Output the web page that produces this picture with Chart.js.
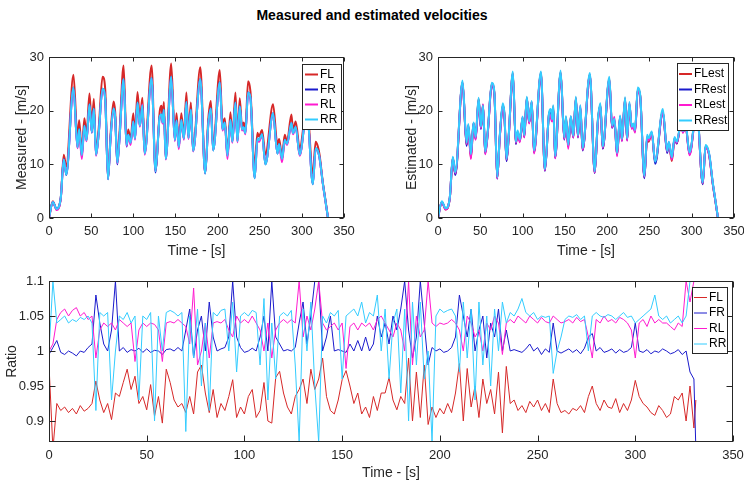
<!DOCTYPE html>
<html>
<head>
<meta charset="utf-8">
<script src="https://cdn.jsdelivr.net/npm/chart.js@4.4.0/dist/chart.umd.min.js"></script>
<style>
  body { margin: 0; background: #fff; }
  #fig { position: relative; width: 744px; height: 484px; background: #fff; font-family: "Liberation Sans", Arial, sans-serif; }
  #title { position: absolute; left: 0; top: 6px; width: 744px; text-align: center; font-weight: bold; font-size: 14px; line-height: 18px; color: #000; }
  canvas { position: absolute; }
</style>
</head>
<body>
<div id="fig">
  <div id="title">Measured and estimated velocities</div>
  <canvas id="c1" width="372" height="230" style="left:0;top:40px"></canvas>
  <canvas id="c2" width="372" height="230" style="left:372px;top:40px"></canvas>
  <canvas id="c3" width="744" height="214" style="left:0;top:270px"></canvas>
</div>
<script>
// ---- velocity data (time in s, speed in m/s) at peaks and troughs
const tv = [0,4.5,9,14,17.5,20.5,29,33.8,35.8,38.9,42,44.5,48,50.8,53.2,55.8,59,63.5,66.7,70,
  73,76.6,78.5,81,83.5,88.5,92,94,96.8,100,102,105,107.8,110.8,113.5,121.7,126.4,131.5,133.5,134.8,
  136.3,138.5,145,149.3,151.3,154,157,160,163,165.5,168.3,171,179.5,185.3,189,192,194.8,202.6,205.8,208.6,
  211.7,215.3,217.5,221.2,223.6,226.3,229,231,233,236.2,239,244,247.3,249,252.8,256.8,265.8,271,273,276.5,
  279.7,282.4,287.6,289.5,292.7,297.4,306,313,316.4,319,321,325,327.5,331];

const vFL = [0,3.1,1.6,3.8,11.8,9.6,26.7,15.0,18.2,12.3,18.6,15.5,23.2,17.2,22.2,12.3,16.8,26.3,24.0,7.4,
  15.5,21.7,19.8,10.8,15.5,28.4,14.0,16.5,14.6,19.5,15.5,23.5,18.3,22.4,12.4,28.4,9.0,20.0,20.9,18.5,
  21.6,11.3,28.8,14.8,19.5,13.5,19.5,15.2,23.4,15.3,21.5,12.8,28.1,8.4,18.5,21.8,13.4,27.6,17.7,18.6,
  11.8,19.7,14.7,23.4,14.6,22.3,17.0,17.8,16.5,25.5,23.6,9.5,15.9,15.2,16.4,11.8,21.2,13.7,14.7,11.5,
  15.5,14.2,19.3,16.4,18.0,13.0,21.0,8.3,14.2,13.3,11.8,6.5,3.9,0];
const vFR = [0,3.0,1.7,3.8,11.0,8.0,24.3,13.1,16.6,11.5,17.2,14.5,21.2,15.9,20.4,11.8,15.8,24.1,22.2,7.2,
  14.8,20.4,18.8,10.0,14.5,25.9,13.3,15.5,14.0,18.0,14.8,21.5,17.2,21.0,12.0,26.1,8.5,19.0,19.3,17.8,
  20.2,11.0,26.3,14.5,18.2,13.2,18.3,14.8,21.6,14.9,20.2,12.5,25.9,8.3,17.5,20.4,12.6,25.3,16.5,17.8,
  11.6,18.3,14.2,21.5,14.3,20.8,16.5,16.9,15.8,23.4,22.4,7.4,14.8,14.5,15.6,10.0,19.5,12.0,13.8,11.0,
  14.6,13.8,17.7,15.8,17.0,11.8,20.0,6.3,13.0,12.5,11.2,6.3,3.7,0];
const vRL = [0,3.0,1.5,3.7,10.9,8.3,24.2,13.0,16.4,11.0,17.0,14.3,21.0,16.0,20.3,11.6,15.7,24.0,22.0,7.3,
  14.7,20.3,18.7,10.2,14.4,25.8,13.4,15.4,13.6,18.0,14.6,21.4,17.0,21.2,11.8,26.0,8.7,18.9,18.8,17.6,
  20.1,10.9,26.2,14.3,18.1,12.8,18.2,14.6,21.5,14.7,20.1,12.4,25.8,8.4,17.3,20.3,12.7,25.2,16.3,17.6,
  11.0,18.2,14.0,21.4,14.1,20.7,16.3,16.8,15.6,23.3,22.3,7.6,14.6,14.2,15.4,10.2,19.4,12.1,13.6,10.4,
  14.5,13.6,17.6,15.6,16.9,11.6,19.9,6.5,12.9,12.4,11.1,6.2,3.6,0];
const vRR = [0,3.0,1.7,3.8,10.9,8.1,24.3,13.2,16.6,11.7,17.2,14.5,21.2,16.0,20.4,11.8,15.8,24.1,22.2,7.2,
  14.8,20.4,18.8,10.3,14.5,25.9,13.6,15.5,14.0,18.0,14.8,21.5,17.2,21.0,12.0,26.1,8.7,19.0,19.3,17.8,
  20.2,11.0,26.3,14.5,18.2,13.2,18.3,14.8,21.6,14.9,20.2,12.5,25.9,8.3,17.5,20.4,12.6,25.3,16.5,17.8,
  11.6,18.3,14.2,21.5,14.3,20.8,16.5,16.9,15.8,23.4,22.4,7.4,14.8,14.5,15.6,10.0,19.5,12.0,13.8,11.0,
  14.6,13.8,17.7,15.8,17.0,11.8,20.0,6.3,13.0,12.5,11.2,6.3,3.7,0];

const eFL = [0,3.0,1.6,3.8,11.2,8.2,25.3,13.6,17.3,11.2,17.6,14.9,22.2,16.8,21.1,12.2,16.3,25.0,23.2,7.4,
  15.0,21.0,19.4,10.7,15.0,27.0,13.9,16.0,14.4,18.7,15.2,22.4,17.8,21.6,12.3,27.0,8.9,19.6,20.0,18.1,
  20.8,11.3,27.2,14.8,18.8,13.3,18.8,15.1,22.4,15.2,20.7,12.7,26.7,8.5,18.0,21.1,13.0,26.0,17.0,18.3,
  11.8,18.9,14.5,22.3,14.6,21.3,16.8,17.4,16.2,24.0,22.9,7.6,14.8,14.2,15.8,10.4,19.9,12.3,13.9,10.6,
  14.8,13.9,18.0,16.0,17.3,12.0,20.4,6.4,13.4,12.8,11.3,6.2,3.7,0];
const eFR = [0,3.0,1.7,3.8,11.2,8.0,25.2,13.4,17.2,11.6,17.7,14.7,22.1,16.6,20.9,12.0,16.2,24.8,23.0,7.3,
  15.0,20.9,19.2,10.6,14.9,26.8,13.8,16.0,14.3,18.6,15.1,22.3,17.7,21.5,12.2,26.8,8.8,19.5,19.9,18.2,
  20.6,11.2,27.0,14.6,18.6,13.4,18.7,15.0,22.2,15.0,20.6,12.6,26.6,8.4,17.9,21.0,12.9,25.8,16.8,18.2,
  11.8,18.8,14.4,22.1,14.5,21.2,16.8,17.3,16.1,23.9,22.8,7.4,15.1,14.6,15.9,10.1,19.8,12.1,14.0,11.1,
  14.8,13.9,18.0,16.0,17.2,11.9,20.3,6.3,13.3,12.8,11.5,6.3,3.7,0];
const eRL = [0,3.0,1.6,3.8,11.1,8.3,25.3,13.8,17.1,11.0,17.5,14.6,21.8,16.7,21.2,11.9,16.1,24.9,23.1,7.4,
  14.9,20.6,19.2,10.9,14.8,26.9,14.0,15.9,14.1,18.8,15.0,22.2,17.6,21.7,12.0,27.0,8.9,19.4,18.6,18.0,
  20.4,11.1,27.1,14.7,18.5,12.9,18.9,15.0,22.3,15.1,20.9,12.7,26.7,8.5,17.7,20.8,13.1,25.9,16.9,18.8,
  11.5,18.7,14.3,22.2,14.4,21.4,16.6,17.2,15.9,23.8,22.7,7.7,15.0,14.5,15.7,10.6,19.7,12.4,14.1,10.9,
  14.7,14.0,17.9,15.9,17.3,11.7,20.2,6.5,13.2,12.7,11.4,6.3,3.8,0];
const eRR = [0,3.1,1.8,3.9,11.4,8.5,25.6,14.0,17.5,11.9,17.8,15.1,22.4,17.0,21.0,12.4,16.5,25.2,23.4,7.6,
  15.3,21.4,19.6,11.0,15.2,27.3,14.2,16.3,14.6,18.9,15.4,22.6,18.0,21.8,12.6,27.3,9.1,19.8,20.3,18.4,
  21.0,11.5,27.5,15.0,19.0,13.6,19.0,15.3,22.6,15.4,21.0,13.0,27.0,8.7,18.3,21.4,13.3,26.3,17.2,18.5,
  12.1,19.1,14.7,22.5,14.8,21.6,17.0,17.6,16.4,24.3,23.1,7.8,15.5,14.9,16.1,10.5,20.3,12.5,14.2,11.3,
  15.1,14.2,18.3,16.2,17.6,12.2,20.6,6.6,13.6,13.0,11.7,6.5,3.9,0];

// ---- ratio data (every 2 s)
const tr = [0,2,4,6,8,10,12,14,16,18, 20,22,24,26,28,30,32,34,36,38, 40,42,44,46,48,50,52,54,56,58,
  60,62,64,66,68,70,72,74,76,78, 80,82,84,86,88,90,92,94,96,98, 100,102,104,106,108,110,112,114,116,118,
  120,122,124,126,128,130,132,134,136,138, 140,142,144,146,148,150,152,154,156,158,
  160,162,164,166,168,170,172,174,176,178, 180,182,184,186,188,190,192,194,196,198,
  200,202,204,206,208,210,212,214,216,218, 220,222,224,226,228,230,232,234,236,238,
  240,242,244,246,248,250,252,254,256,258, 260,262,264,266,268,270,272,274,276,278,
  280,282,284,286,288,290,292,294,296,298, 300,302,304,306,308,310,312,314,316,318,
  320,322,324,326,328,330,331];

const rFL = [0.98,0.86,0.925,0.915,0.92,0.912,0.918,0.91,0.922,0.914,
  0.918,0.925,0.957,0.93,0.912,0.925,0.902,0.94,0.935,0.955,
  0.974,0.945,0.964,0.925,0.935,0.916,0.952,0.907,0.935,0.897,
  0.974,0.955,0.93,0.92,0.925,0.912,0.935,0.91,0.97,0.98,
  0.94,0.912,0.945,0.905,0.925,0.915,0.935,0.959,0.905,0.92,
  0.91,0.935,0.945,0.905,0.915,0.955,0.9,0.897,0.962,0.971,
  0.94,0.92,0.91,0.935,0.945,0.96,0.925,0.974,0.945,0.96,
  0.99,0.935,0.915,0.91,0.93,0.959,0.972,0.95,0.925,0.94,
  0.91,0.92,0.905,0.935,0.915,0.94,0.94,0.962,0.93,0.916,
  0.935,0.925,0.99,0.9,0.97,0.905,0.98,0.895,0.92,0.905,
  0.918,0.91,0.925,0.912,0.94,0.982,0.9,0.975,0.92,0.95,
  0.905,0.96,0.925,0.945,0.91,0.97,0.883,0.978,0.925,0.93,
  0.915,0.922,0.912,0.928,0.92,0.93,0.915,0.925,0.912,0.96,
  0.925,0.912,0.915,0.91,0.918,0.915,0.922,0.912,0.935,0.95,
  0.925,0.915,0.93,0.92,0.918,0.932,0.912,0.925,0.915,0.93,
  0.958,0.935,0.925,0.92,0.912,0.908,0.922,0.915,0.905,0.91,
  0.935,0.93,0.94,0.9,0.95,0.89,0.93];
const rFR = [0.995,1.005,1.015,0.998,0.995,1.0,0.997,0.993,1.0,0.998,
  1.005,1.01,1.08,1.04,1.01,1.0,1.03,1.1,1.0,1.005,
  0.998,1.002,1.0,1.004,0.998,1.003,0.998,1.001,1.0,0.995,
  1.002,1.003,1.0,1.005,1.0,1.03,1.06,0.99,1.03,1.05,
  1.0,1.07,1.02,1.0,1.003,1.005,1.02,1.1,1.02,1.005,
  0.998,1.0,1.004,1.0,1.02,1.05,1.0,1.1,1.02,1.01,
  1.0,1.002,1.0,1.005,1.04,1.07,1.01,1.05,1.1,1.1,
  1.0,1.02,1.05,1.0,1.002,1.0,0.998,1.01,1.0,1.015,
  1.0,1.02,1.0,1.01,1.05,1.02,1.04,1.01,1.05,1.03,
  1.06,1.1,1.03,0.99,1.02,1.1,1.04,0.98,1.005,1.0,
  1.003,0.998,1.0,1.005,1.02,1.08,1.05,1.02,1.06,1.0,
  1.03,1.05,0.99,1.04,1.02,1.06,1.0,1.03,1.0,1.002,
  1.0,0.998,1.003,1.01,1.0,1.005,0.995,1.003,0.998,1.04,
  1.0,0.997,1.0,1.003,0.998,1.002,0.996,1.004,1.02,1.025,
  1.0,1.005,0.998,1.0,1.003,0.997,1.002,0.998,1.0,1.005,
  1.04,1.0,0.998,1.002,0.996,1.0,0.998,1.003,1.0,0.996,
  0.998,1.002,0.995,1.0,0.97,0.96,0.86];
const rRL = [1.0,1.01,1.045,1.055,1.06,1.05,1.058,1.062,1.05,1.055,
  1.045,1.05,0.99,1.03,1.04,1.035,1.04,1.03,1.045,1.04,
  1.035,1.04,0.985,1.03,1.04,1.035,1.04,1.038,1.03,0.985,
  1.04,1.042,1.04,1.045,1.04,1.035,1.01,1.09,0.98,1.0,
  1.04,0.99,1.04,1.042,1.04,1.045,1.03,1.02,1.05,1.04,
  1.045,1.04,1.05,1.04,1.03,1.0,1.04,0.99,1.03,1.04,
  1.045,1.04,1.045,1.04,1.1,1.02,1.05,1.03,1.06,1.1,
  1.04,1.03,1.035,1.04,1.03,1.04,0.975,1.035,1.04,1.03,
  1.04,1.035,1.04,1.03,1.045,1.05,1.04,1.03,1.02,1.04,
  1.03,1.0,1.1,0.98,1.05,1.02,1.03,1.1,1.04,1.035,
  1.04,1.038,1.04,1.045,1.04,1.03,1.0,1.05,1.04,1.02,
  1.03,1.0,1.04,1.03,1.05,1.04,0.995,1.04,1.045,1.04,
  1.05,1.045,1.04,1.05,1.045,1.04,1.048,1.042,1.04,1.05,
  1.045,1.04,1.042,1.045,1.04,1.048,1.042,1.045,1.02,0.99,
  1.045,1.04,1.05,1.042,1.045,1.04,1.048,1.045,1.04,1.03,
  0.99,1.04,1.045,1.035,1.05,1.04,1.045,1.04,1.04,1.035,
  1.03,1.04,1.035,1.1,1.07,1.1,1.1];
const rRR = [1.0,1.1,1.04,1.045,1.05,1.04,1.045,1.042,1.048,1.045,
  1.05,1.04,0.915,1.055,1.05,1.055,0.93,1.0,1.05,1.045,
  1.055,1.04,1.05,0.93,1.05,1.045,1.055,0.9,1.05,1.0,
  1.055,1.058,1.055,1.05,1.055,0.885,1.05,0.99,1.06,0.95,
  1.04,0.915,1.055,1.05,1.058,1.06,1.0,1.07,0.97,1.05,
  1.055,1.05,1.058,1.055,0.98,1.075,0.93,1.04,0.96,1.05,
  1.055,1.05,1.058,0.98,0.87,1.06,1.0,1.07,0.95,0.87,
  1.05,1.04,1.055,1.05,1.058,0.96,1.05,1.055,1.06,1.05,
  1.07,1.04,1.055,1.05,1.08,1.0,1.06,0.96,1.04,1.06,
  0.94,1.06,0.9,1.07,0.98,1.07,0.96,1.0,0.87,1.05,
  1.06,1.055,1.058,1.06,1.05,0.97,1.07,0.99,1.06,0.93,
  1.07,0.98,1.05,0.95,1.06,1.0,1.07,1.04,1.055,1.05,
  1.06,1.075,1.055,1.05,1.055,1.045,1.05,1.048,1.05,0.968,
  1.0,1.02,1.045,1.05,1.048,1.052,1.045,1.05,1.0,1.05,
  1.055,1.05,1.048,1.052,1.05,1.045,1.05,1.055,1.048,1.05,
  1.04,1.045,1.05,1.055,1.06,1.08,1.05,1.045,1.05,1.04,
  1.045,1.05,1.04,1.05,1.1,1.1,1.1];

const timeTicks = [0,50,100,150,200,250,300,350];
const speedTicks = [0,10,20,30];
const ratioTicks = [0.9,0.95,1,1.05,1.1];
const names = ['FL','FR','RL','RR'];
const colors = ['#d62828','#1a1acc','#ff1ad0','#33ccff'];

Chart.defaults.font.family = '"Liberation Sans", Arial, sans-serif';
Chart.defaults.color = '#262626';

function pts(t, v) {
  return v.map((y, i) => ({x: t[i], y: y}));
}

function makeSets(t, list, suffix, width) {
  return list.map((v, i) => ({
    label: names[i] + suffix,
    data: pts(t, v),
    borderColor: colors[i],
    borderWidth: width,
    order: 3 - i
  }));
}

// box, inward ticks and a MATLAB style legend
const frame = {
  id: 'frame',
  afterDatasetsDraw(chart, args, o) {
    const {ctx, chartArea: a, scales} = chart;
    ctx.save();
    ctx.strokeStyle = '#262626';
    ctx.lineWidth = 1;
    const L = Math.round(a.left) + 0.5, R = Math.round(a.right) - 0.5;
    const T = Math.round(a.top) + 0.5, B = Math.round(a.bottom) - 0.5;
    ctx.strokeRect(L, T, R - L, B - T);
    ctx.beginPath();
    scales.x.ticks.forEach(t => {
      const p = Math.round(scales.x.getPixelForValue(t.value)) + 0.5;
      ctx.moveTo(p, B); ctx.lineTo(p, B - o.tick);
      ctx.moveTo(p, T); ctx.lineTo(p, T + o.tick);
    });
    scales.y.ticks.forEach(t => {
      const p = Math.round(scales.y.getPixelForValue(t.value)) + 0.5;
      ctx.moveTo(L, p); ctx.lineTo(L + o.tick, p);
      ctx.moveTo(R, p); ctx.lineTo(R - o.tick, p);
    });
    ctx.stroke();

    const g = o.legend;
    ctx.fillStyle = '#fff';
    ctx.fillRect(g.x, g.y, g.w, g.h);
    ctx.strokeRect(g.x + 0.5, g.y + 0.5, g.w, g.h);
    ctx.font = g.size + 'px "Liberation Sans", Arial, sans-serif';
    ctx.textBaseline = 'middle';
    ctx.textAlign = 'left';
    chart.data.datasets.forEach((d, i) => {
      const yy = g.y + g.rows[i];
      ctx.strokeStyle = d.borderColor;
      ctx.lineWidth = g.lw;
      ctx.beginPath();
      ctx.moveTo(g.x + g.l0, yy);
      ctx.lineTo(g.x + g.l1, yy);
      ctx.stroke();
      ctx.fillStyle = '#000';
      ctx.fillText(d.label, g.x + g.tx, yy);
    });
    ctx.restore();
  }
};

function xAxis(h, padB) {
  return {
    type: 'linear', min: 0, max: 350,
    afterBuildTicks: s => { s.ticks = timeTicks.map(v => ({value: v})); },
    afterFit: s => { s.height = h; s.paddingLeft = 0; s.paddingRight = 0; },
    grid: {display: false, drawTicks: false},
    border: {display: false},
    ticks: {padding: 6, font: {size: 13}, color: '#262626', maxRotation: 0, autoSkip: false, callback: v => String(v)},
    title: {display: true, text: 'Time - [s]', font: {size: 14}, color: '#262626', padding: {top: 0, bottom: padB}}
  };
}

function yAxis(w, min, max, tickArr, label, padT) {
  return {
    type: 'linear', min: min, max: max,
    afterBuildTicks: s => { s.ticks = tickArr.map(v => ({value: v})); },
    afterFit: s => { s.width = w; s.paddingTop = 0; s.paddingBottom = 0; },
    grid: {display: false, drawTicks: false},
    border: {display: false},
    ticks: {padding: 5, font: {size: 13}, color: '#262626', autoSkip: false, callback: v => String(v)},
    title: {display: true, text: label, font: {size: 14}, color: '#262626', padding: {top: padT, bottom: 0}}
  };
}

function baseOptions(pad, xs, ys, frameOpts, smooth) {
  return {
    responsive: false,
    animation: false,
    devicePixelRatio: 1,
    layout: {padding: pad},
    elements: {
      point: {radius: 0},
      line: smooth ? {cubicInterpolationMode: 'monotone'} : {tension: 0}
    },
    plugins: {legend: {display: false}, tooltip: {enabled: false}, frame: frameOpts},
    scales: {x: xs, y: ys}
  };
}

new Chart(document.getElementById('c1'), {
  type: 'line',
  data: {datasets: makeSets(tv, [vFL, vFR, vRL, vRR], '', 2)},
  options: baseOptions({left: 0, right: 28, top: 17, bottom: 0},
    xAxis(52, 10.6), yAxis(49, 0, 30, speedTicks, 'Measured - [m/s]', 13.6),
    {tick: 4, legend: {x: 302, y: 24, w: 39, h: 65, rows: [10.5, 25.5, 40.5, 55.5], l0: 3, l1: 16, tx: 18, size: 12, lw: 2}}, true),
  plugins: [frame]
});

new Chart(document.getElementById('c2'), {
  type: 'line',
  data: {datasets: makeSets(tv, [eFL, eFR, eRL, eRR], 'est', 2)},
  options: baseOptions({left: 0, right: 10, top: 17, bottom: 0},
    xAxis(52, 10.6), yAxis(66, 0, 30, speedTicks, 'Estimated - [m/s]', 31.6),
    {tick: 4, legend: {x: 305, y: 23, w: 51, h: 67, rows: [11, 26.5, 42, 57.5], l0: 2, l1: 15, tx: 17, size: 12, lw: 2}}, true),
  plugins: [frame]
});

new Chart(document.getElementById('c3'), {
  type: 'line',
  data: {datasets: makeSets(tr, [rFL, rFR, rRL, rRR], '', 1)},
  options: baseOptions({left: 0, right: 11, top: 11, bottom: 0},
    xAxis(42, 2.6), yAxis(49, 0.87, 1.1, ratioTicks, 'Ratio', 3.6),
    {tick: 6, legend: {x: 692, y: 17, w: 35, h: 66, rows: [10.5, 26, 41.5, 57], l0: 2, l1: 15, tx: 17, size: 12, lw: 1}}, false),
  plugins: [frame]
});
</script>
</body>
</html>
